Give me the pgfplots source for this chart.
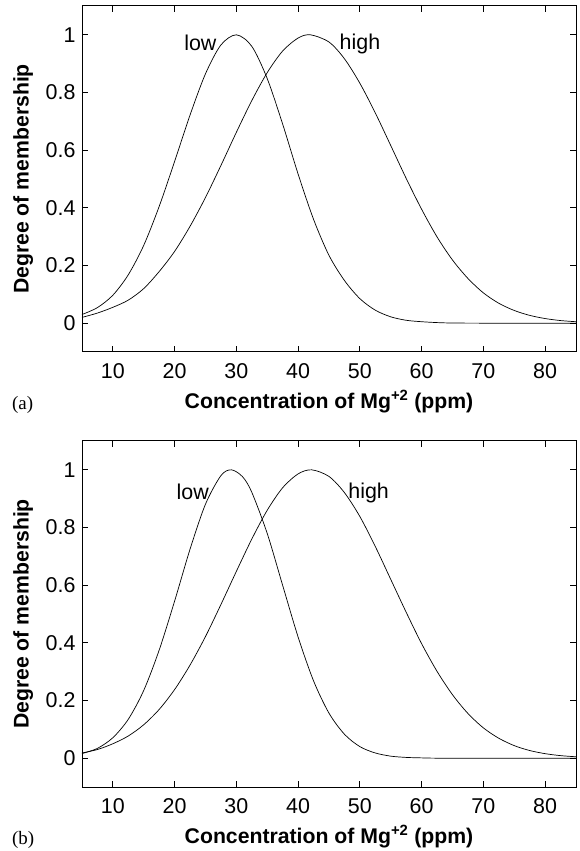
\documentclass[border=0pt]{standalone}
\usepackage{fontspec}
\setmainfont{Liberation Sans}
\newfontfamily\seriffont{Liberation Serif}
\usepackage{pgfplots}
\pgfplotsset{compat=1.18}
\pgfplotsset{
  mystyle/.style={
    scale only axis, width=494bp, height=346bp,
    xmin=5, xmax=85, ymin=-0.1, ymax=1.1,
    xtick={10,20,30,40,50,60,70,80},
    ytick={0,0.2,0.4,0.6,0.8,1},
    yticklabels={0,0.2,0.4,0.6,0.8,1},
    /pgf/number format/assume math mode=true,
    tick label style={font=\fontsize{21.5}{23}\selectfont},
    yticklabel style={xshift=-3bp},
    xticklabel style={yshift=-8bp},
    axis line style={line width=1bp},
    tick style={line width=0.8bp, black},
    major tick length=6bp,
    clip=false,
    every axis plot/.append style={line width=0.7bp, smooth, no markers},
  }
}
\begin{document}
\begin{tikzpicture}
\path[use as bounding box] (0,0) rectangle (580bp,851bp);
% ---------- (a) ----------
\begin{axis}[mystyle, at={(82bp,499bp)}, anchor=south west]
\addplot[black] coordinates {
(5,0.03) (7.5,0.054) (10,0.097) (12.5,0.168) (15,0.27) (17.5,0.405) (20,0.561)
(22.5,0.722) (25,0.865) (27.5,0.965) (30,1) (32.5,0.96) (35,0.848) (37.5,0.69)
(40,0.517) (42.5,0.36) (45,0.235) (47.5,0.148) (50,0.085) (52.5,0.045) (55,0.022)
(57.5,0.01) (60,0.005) (62.5,0.002) (65,0.0005) (70,0) (75,0) (80,0) (85,0)
};
\addplot[black] coordinates {
(5,0.02) (7.5,0.035) (10,0.055) (12.5,0.08) (15,0.12) (17.5,0.179) (20,0.249)
(22.5,0.336) (25,0.436) (27.5,0.547) (30,0.662) (32.5,0.772) (35,0.869)
(37.5,0.944) (40,0.989) (42,1) (45,0.975) (47.5,0.917) (50,0.832) (52.5,0.729)
(55,0.616) (57.5,0.502) (60,0.395) (62.5,0.299) (65,0.219) (67.5,0.155)
(70,0.105) (72.5,0.069) (75,0.044) (77.5,0.027) (80,0.016) (82.5,0.009) (85,0.005)
};
\node[anchor=base east, inner sep=0, font=\fontsize{21.5}{23}\selectfont] at (axis cs:26.8,0.945) {low};
\node[anchor=base west, inner sep=0, font=\fontsize{21.5}{23}\selectfont] at (axis cs:46.7,0.95) {high};
\node[rotate=90, font=\bfseries\fontsize{21.3}{23}\selectfont] at (axis description cs:-0.119,0.5) {Degree of membership};
\node[anchor=base, font=\bfseries\fontsize{21.3}{23}\selectfont] at (axis description cs:0.5,-0.162) {Concentration of Mg\textsuperscript{+2} (ppm)};
\node[anchor=base west, inner sep=0, font=\seriffont\fontsize{19}{21}\selectfont] at (axis description cs:-0.142,-0.165) {(a)};
\end{axis}
% ---------- (b) ----------
\begin{axis}[mystyle, at={(82bp,64bp)}, anchor=south west]
\addplot[black] coordinates {
(5,0.016) (7.5,0.034) (10,0.071) (12.5,0.135) (15,0.235) (17.5,0.375) (20,0.545)
(22.5,0.725) (25,0.881) (27.5,0.98) (29.2,1) (31,0.976) (32.5,0.922) (35,0.779)
(37.5,0.599) (40,0.42) (42.5,0.268) (45,0.156) (47.5,0.083) (50,0.04) (52.5,0.018)
(55,0.007) (57.5,0.0026) (60,0.001) (62.5,0) (70,0) (75,0) (80,0) (85,0)
};
\addplot[black] coordinates {
(5,0.018) (7.5,0.03) (10,0.05) (12.5,0.077) (15,0.116) (17.5,0.169) (20,0.238)
(22.5,0.323) (25,0.422) (27.5,0.533) (30,0.648) (32.5,0.76) (35,0.86)
(37.5,0.938) (40,0.986) (42.2,1) (45,0.977) (47.5,0.921) (50,0.838) (52.5,0.734)
(55,0.62) (57.5,0.506) (60,0.397) (62.5,0.301) (65,0.22) (67.5,0.155)
(70,0.105) (72.5,0.069) (75,0.0435) (77.5,0.0265) (80,0.0156) (82.5,0.0088) (85,0.0048)
};
\node[anchor=base west, inner sep=0, font=\fontsize{21.5}{23}\selectfont] at (axis cs:20.3,0.896) {low};
\node[anchor=base west, inner sep=0, font=\fontsize{21.5}{23}\selectfont] at (axis cs:48.1,0.9) {high};
\node[rotate=90, font=\bfseries\fontsize{21.3}{23}\selectfont] at (axis description cs:-0.119,0.5) {Degree of membership};
\node[anchor=base, font=\bfseries\fontsize{21.3}{23}\selectfont] at (axis description cs:0.5,-0.162) {Concentration of Mg\textsuperscript{+2} (ppm)};
\node[anchor=base west, inner sep=0, font=\seriffont\fontsize{19}{21}\selectfont] at (axis description cs:-0.142,-0.165) {(b)};
\end{axis}
\end{tikzpicture}
\end{document}
